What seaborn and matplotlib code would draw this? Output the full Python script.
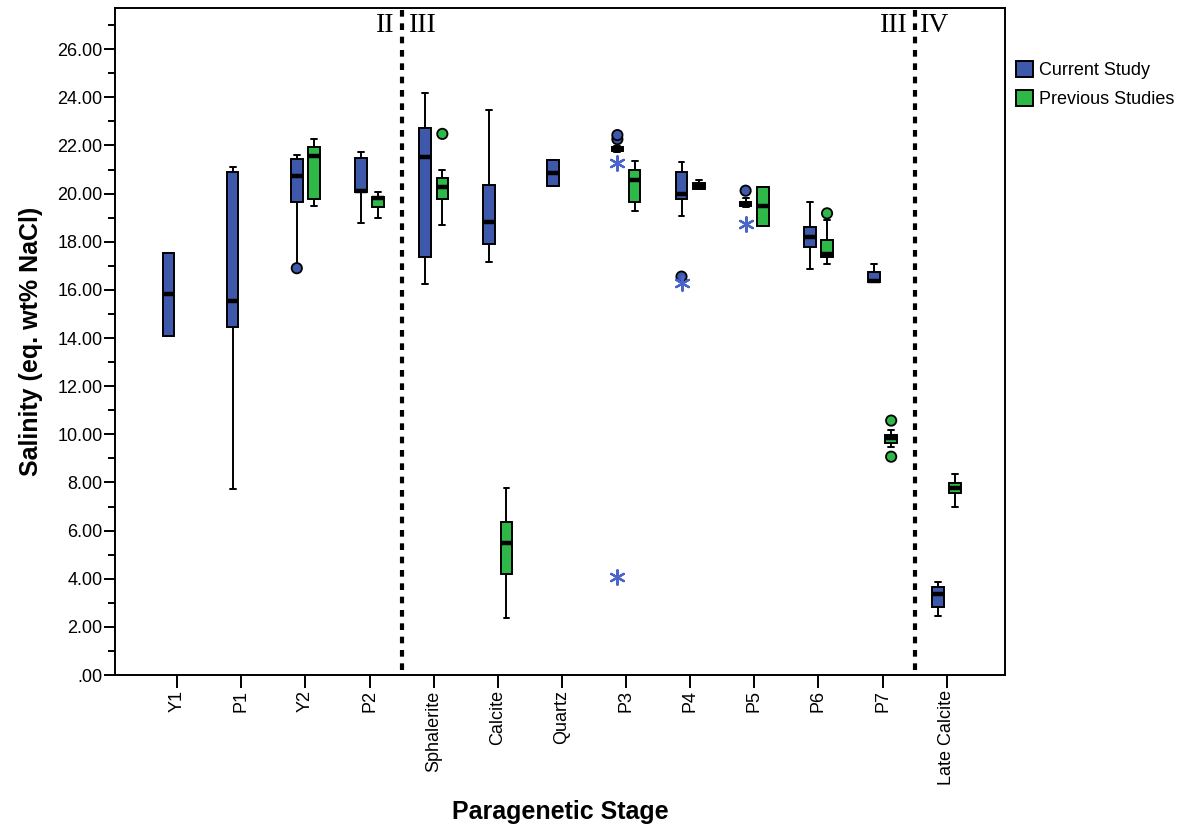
import numpy as np
import pandas as pd
import matplotlib
matplotlib.use("Agg")
import matplotlib.pyplot as plt
from matplotlib.ticker import MultipleLocator, FuncFormatter
import seaborn as sns

# ---- data -------------------------------------------------------------
stages = ["Y1", "P1", "Y2", "P2", "Sphalerite", "Calcite", "Quartz",
          "P3", "P4", "P5", "P6", "P7", "Late Calcite"]
sources = ["Current Study", "Previous Studies"]

# five-number summaries (lower whisker, Q1, median, Q3, upper whisker)
cur_lo  = [14.08,  7.72, 17.05, 18.78, 16.24, 17.17, 20.33, 21.72, 19.08, 19.45, 16.85, 16.31, 2.46]
cur_q1  = [14.08, 14.47, 19.64, 20.08, 17.35, 17.89, 20.33, 21.76, 19.79, 19.48, 17.79, 16.31, 2.84]
cur_med = [15.82, 15.55, 20.72, 20.11, 21.51, 18.82, 20.86, 21.84, 19.98, 19.56, 18.21, 16.37, 3.35]
cur_q3  = [17.52, 20.90, 21.45, 21.49, 22.71, 20.37, 21.40, 21.93, 20.90, 19.66, 18.61, 16.76, 3.67]
cur_hi  = [17.52, 21.09, 21.60, 21.74, 24.19, 23.47, 21.40, 21.97, 21.31, 19.80, 19.64, 17.09, 3.85]

nan = np.nan
prev_lo  = [nan, nan, 19.47, 18.97, 18.68, 2.38, nan, 19.28, 20.18, 18.67, 17.09,  9.49, 6.98]
prev_q1  = [nan, nan, 19.76, 19.46, 19.76, 4.18, nan, 19.66, 20.18, 18.67, 17.38,  9.65, 7.57]
prev_med = [nan, nan, 21.58, 19.80, 20.29, 5.47, nan, 20.57, 20.32, 19.50, 17.49,  9.83, 7.78]
prev_q3  = [nan, nan, 21.94, 19.87, 20.64, 6.37, nan, 20.98, 20.43, 20.29, 18.07,  9.97, 7.96]
prev_hi  = [nan, nan, 22.28, 20.05, 20.98, 7.78, nan, 21.37, 20.57, 20.29, 18.90, 10.18, 8.36]

# outliers (circles) and extreme values (asterisks)
outlier_stage  = ["Y2", "P3", "P3", "P4", "P5", "Sphalerite", "P6", "P7", "P7"]
outlier_source = ["Current Study", "Current Study", "Current Study", "Current Study",
                  "Current Study", "Previous Studies", "Previous Studies",
                  "Previous Studies", "Previous Studies"]
outlier_value  = [16.90, 22.26, 22.43, 16.55, 20.12, 22.48, 19.18, 10.57, 9.07]

extreme_stage = ["P3", "P3", "P4", "P5"]
extreme_value = [21.26, 4.07, 16.27, 18.74]

stage_dividers = [3.5, 11.5]

# ---- long-form table for seaborn ------------------------------------------
rows = []
for src, cols in [(sources[0], (cur_lo, cur_q1, cur_med, cur_q3, cur_hi)),
                  (sources[1], (prev_lo, prev_q1, prev_med, prev_q3, prev_hi))]:
    for i, st in enumerate(stages):
        vals = [c[i] for c in cols]
        if np.isnan(vals[0]):
            continue
        for v in vals:
            rows.append({"stage": st, "source": src, "salinity": v})
df = pd.DataFrame(rows)

# ---- style ----------------------------------------------------------------
sns.set_style("ticks")
plt.rcParams["font.family"] = ["Liberation Sans", "DejaVu Sans"]
plt.rcParams.update({"text.color": "black", "axes.labelcolor": "black",
                     "xtick.color": "black", "ytick.color": "black"})

blue = "#3E58AC"
green = "#2EB848"
star_blue = "#4a64c9"
palette = {sources[0]: blue, sources[1]: green}

fig = plt.figure(figsize=(11.92, 8.31), dpi=100)
ax = fig.add_axes([0.0965, 0.1877, 0.7466, 0.8027])

box_width = 0.54
sns.boxplot(data=df, x="stage", y="salinity", hue="source",
            order=stages, hue_order=sources, palette=palette,
            whis=(0, 100), width=box_width, gap=0.33, dodge=True,
            saturation=1, linewidth=1.4, linecolor="black",
            showfliers=False,
            medianprops={"linewidth": 3.2, "color": "black"},
            ax=ax)

# dodge offsets match seaborn's placement of the two hue levels
offset = {sources[0]: -box_width / 4, sources[1]: box_width / 4}

ox = [stages.index(s) + offset[src] for s, src in zip(outlier_stage, outlier_source)]
oc = [palette[src] for src in outlier_source]
ax.scatter(ox, outlier_value, s=55, c=oc, edgecolors="black", linewidths=1.3, zorder=5)

ex = [stages.index(s) + offset[sources[0]] for s in extreme_stage]
ax.scatter(ex, extreme_value, s=110, marker=(6, 2, 0), c=star_blue,
           linewidths=1.6, zorder=5)

# stage boundaries
for xd in stage_dividers:
    ax.axvline(xd, ymin=0.008, ymax=1, color="black", lw=3, ls=(0, (1.6, 1.6)), zorder=1)

roman_kw = dict(transform=ax.get_xaxis_transform(), va="center", color="black",
                fontsize=20, family=["Liberation Serif", "DejaVu Serif"])
ax.text(3.5 - 0.11, 0.974, "II", ha="right", **roman_kw)
ax.text(3.5 + 0.11, 0.974, "III", ha="left", **roman_kw)
ax.text(11.5 - 0.11, 0.974, "III", ha="right", **roman_kw)
ax.text(11.5 + 0.09, 0.974, "IV", ha="left", **roman_kw)

# axes
ax.set_xlim(-0.97, 12.91)
ax.set_ylim(0, 27.71)
ax.yaxis.set_major_locator(MultipleLocator(2))
ax.yaxis.set_minor_locator(MultipleLocator(1))
ax.yaxis.set_major_formatter(FuncFormatter(
    lambda v, p: (f"{v:.2f}"[1:] if abs(v) < 1e-9 else f"{v:.2f}")))
ax.tick_params(axis="y", which="major", length=8, width=1.4, labelsize=13, pad=1,
               colors="black")
ax.tick_params(axis="y", which="minor", length=5, width=1.4, colors="black")
ax.tick_params(axis="x", length=9, width=1.4, labelsize=13, labelrotation=90, pad=2,
               colors="black")
for sp in ax.spines.values():
    sp.set_visible(True)
    sp.set_linewidth(1.4)
    sp.set_color("black")

ax.set_xlabel("Paragenetic Stage", fontsize=18, fontweight="bold", color="black")
ax.xaxis.set_label_coords(0.5, -0.188)
ax.set_ylabel("Salinity (eq. wt% NaCl)", fontsize=18, fontweight="bold",
              labelpad=10, color="black")

sns.move_legend(ax, "upper left", bbox_to_anchor=(0.852, 0.926),
                bbox_transform=fig.transFigure, frameon=False, title=None,
                fontsize=13, handlelength=0.95, handleheight=0.95,
                handletextpad=0.35, labelspacing=0.6, borderpad=0,
                borderaxespad=0, labelcolor="black")

fig.savefig("out.png", dpi=100)
